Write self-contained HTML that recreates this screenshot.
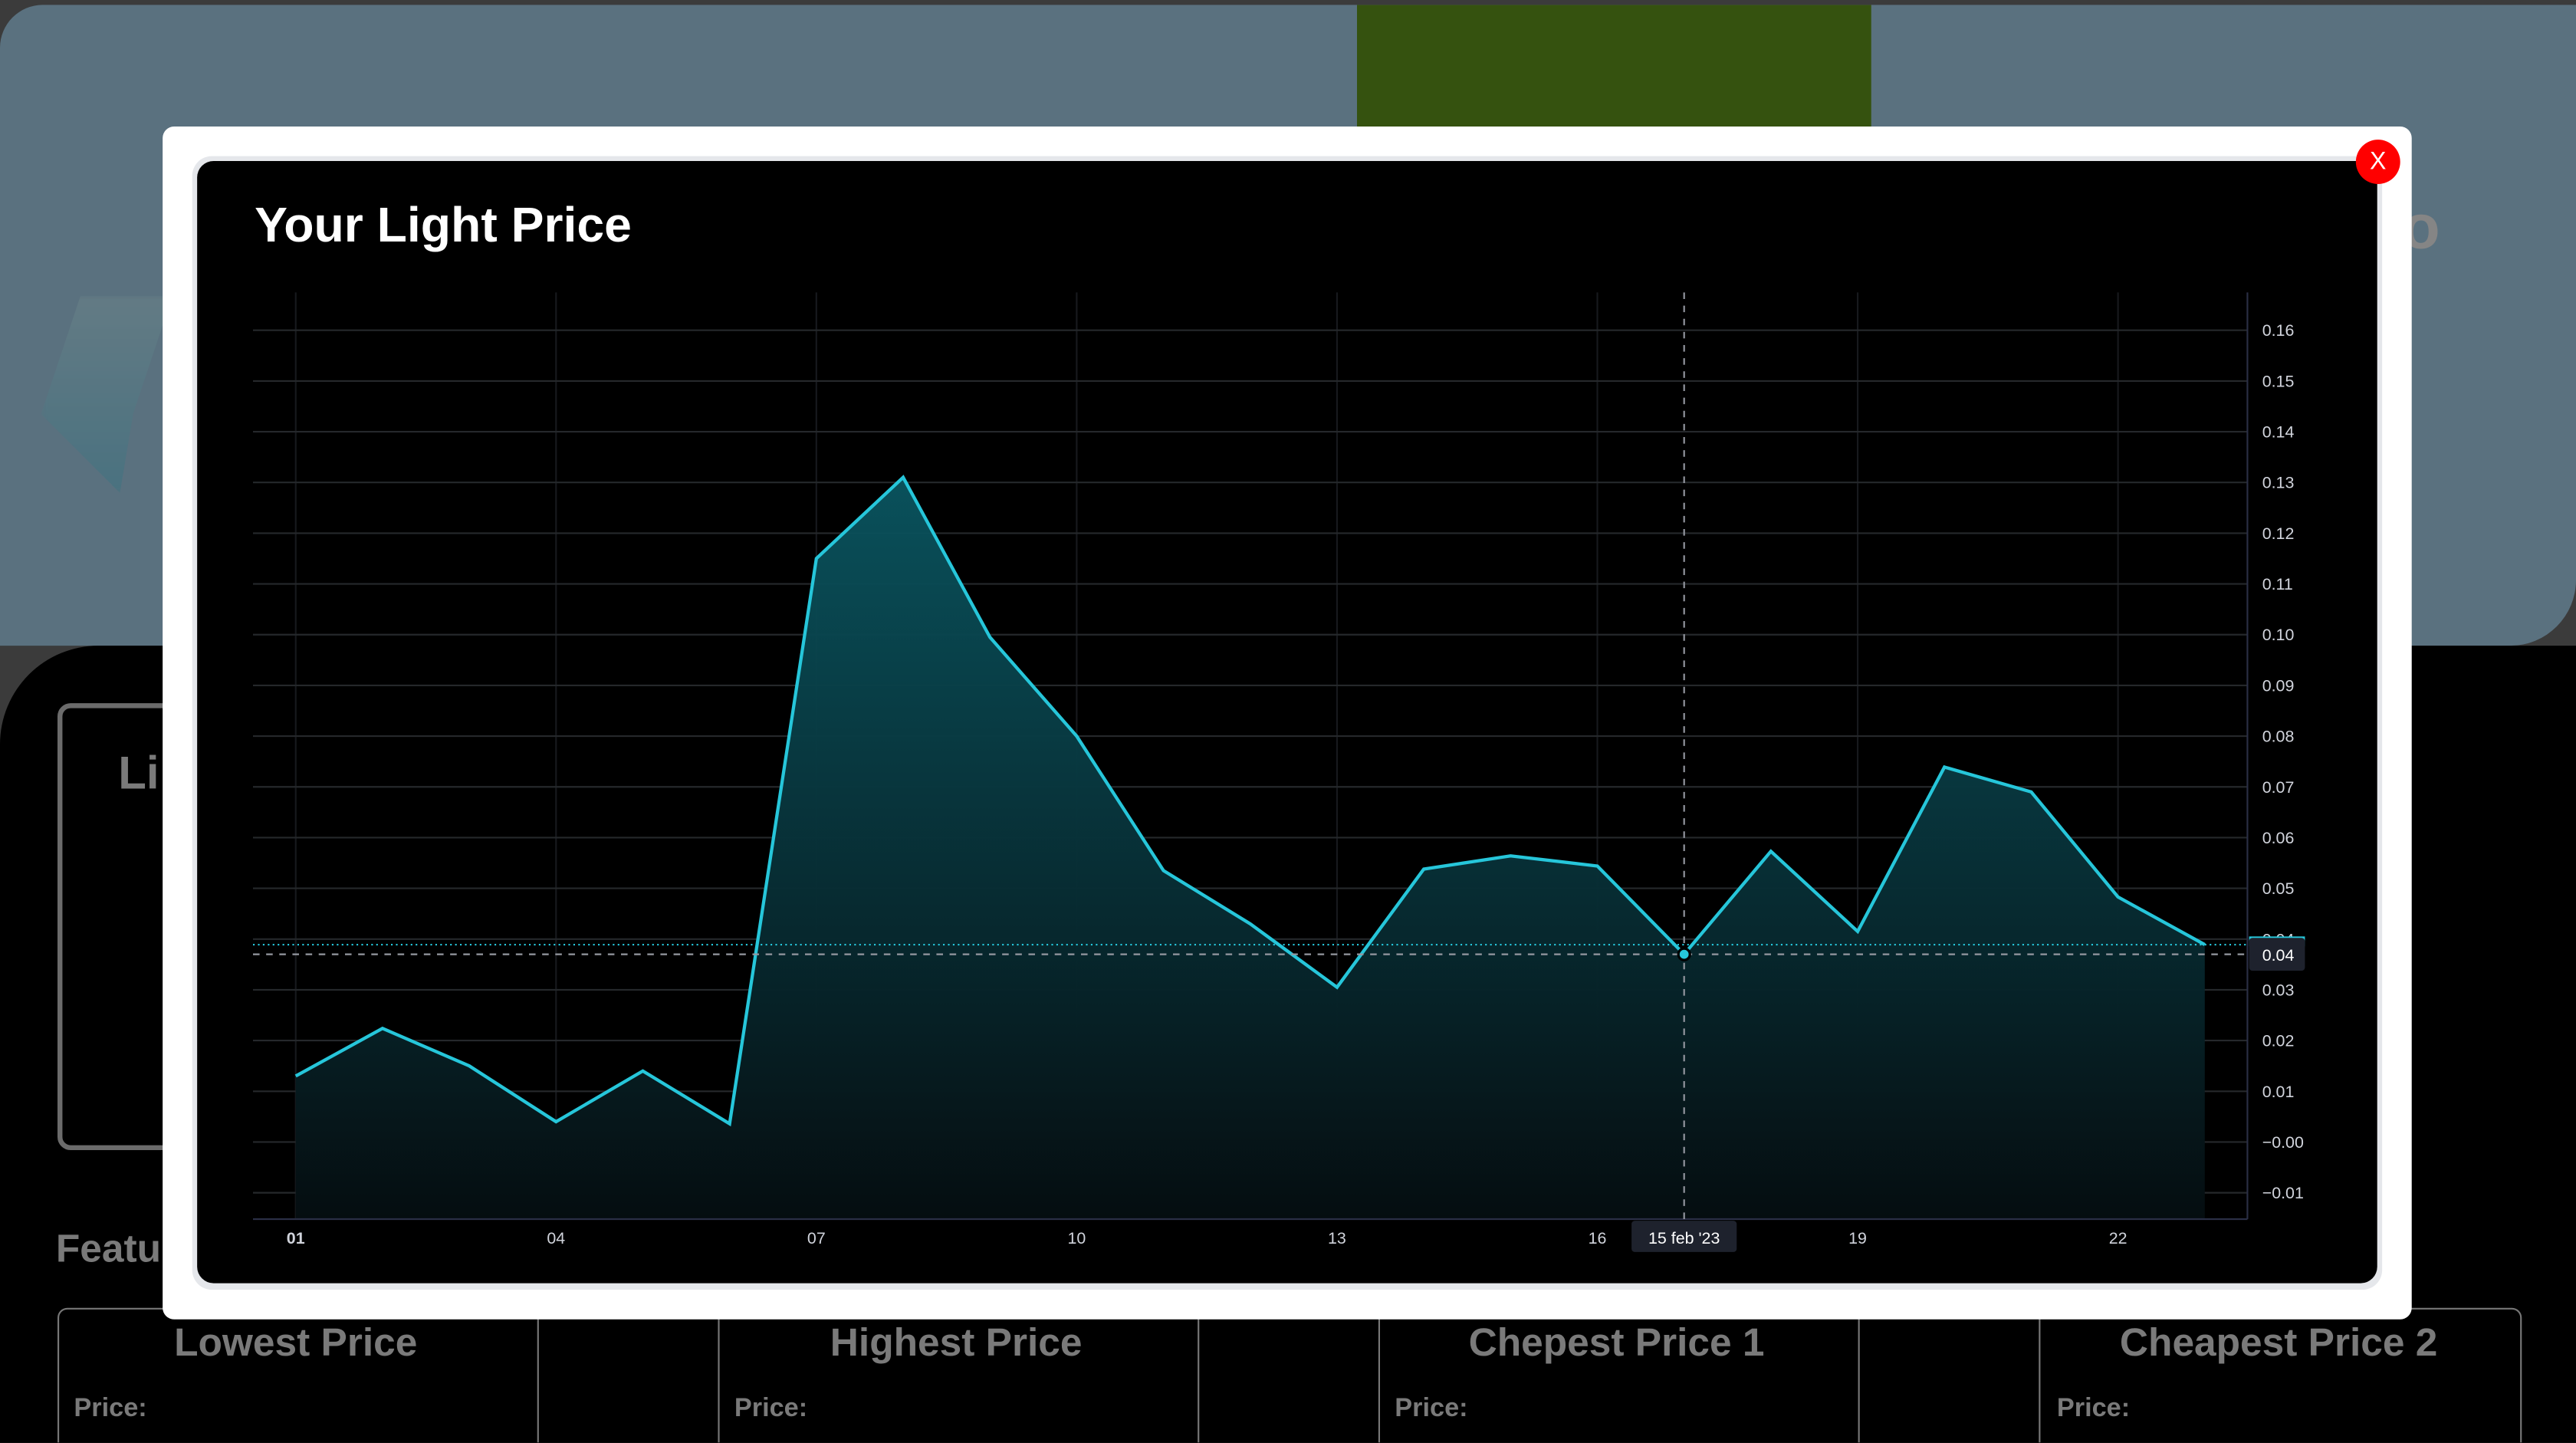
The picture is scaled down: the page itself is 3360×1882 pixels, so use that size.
<!DOCTYPE html>
<html><head><meta charset="utf-8">
<style>
html,body{margin:0;padding:0;width:3360px;height:1882px;overflow:hidden;background:#000;}
#wrap{position:absolute;left:0;top:0;width:1568px;height:878px;transform:scale(2.142857);transform-origin:0 0;font-family:"Liberation Sans",sans-serif;background:#3b3b3b;overflow:hidden;}
.abs{position:absolute;}
</style></head>
<body>
<div id="wrap">
  <div class="abs" style="left:0;top:3px;width:1568px;height:390px;background:#5a717f;border-radius:26px 0 40px 0;"></div>
  <div class="abs" style="left:25px;top:180px;width:80px;height:120px;background:linear-gradient(180deg,#6a8288,#3f7380);opacity:.6;filter:blur(2px);clip-path:polygon(30% 0,100% 0,70% 60%,60% 100%,0 60%);"></div>
  <div class="abs" style="left:826px;top:3px;width:313px;height:74px;background:#35520f;"></div>
  <div class="abs" style="left:1462px;top:118px;font-size:38px;font-weight:bold;color:#858585;">o</div>
  <div class="abs" style="left:0;top:393px;width:1568px;height:485px;background:#000;border-radius:60px 0 0 0;"></div>
  <div class="abs" style="left:35px;top:428px;width:80px;height:266px;border:3px solid #6b6b6b;border-radius:8px;"></div>
  <div class="abs" style="left:72px;top:455px;font-size:28px;font-weight:bold;color:#7a7a7a;">Li</div>
  <div class="abs" style="left:34px;top:747px;font-size:24px;font-weight:bold;color:#7a7a7a;">Featu</div>
  <div class="abs" style="left:35px;top:796px;width:1498px;height:90px;border:1px solid #777;border-radius:6px 6px 0 0;"></div>
  <div id="tbl"></div>

  <div class="abs" style="left:99px;top:77px;width:1369px;height:726px;background:#fff;border-radius:7px;"></div>
  <div class="abs" style="left:117px;top:95px;width:1333px;height:690px;background:#e5e7eb;border-radius:12px;"></div>
  <div class="abs" style="left:120px;top:98px;width:1327px;height:683px;background:#000;border-radius:10px;"></div>
  <div class="abs" style="left:155px;top:121px;font-size:30px;font-weight:bold;color:#fff;">Your Light Price</div>
  <svg class="abs" id="chart" style="left:0;top:0;" width="1568" height="878"></svg>
  <div class="abs" style="left:1434px;top:85px;width:27px;height:27px;border-radius:50%;background:#f00;color:#fff;font-size:15px;text-align:center;line-height:27px;">X</div>
</div>
<script>
(function(){
  const tbl=document.getElementById('tbl');
  const heads=["Lowest Price","Highest Price","Chepest Price 1","Cheapest Price 2"];
  const centers=[180,582,984,1387];
  const lefts=[45,447,849,1252];
  [327,437,729,839,1131,1241].forEach(x=>{
    const d=document.createElement('div');d.className='abs';
    
    
    d.style.cssText=`left:${x}px;top:797px;width:1px;height:81px;background:#777;`;tbl.appendChild(d);
  });
  heads.forEach((h,i)=>{
    const d=document.createElement('div');d.className='abs';
    
    
    d.style.cssText=`left:${centers[i]-150}px;width:300px;text-align:center;top:804px;font-size:24px;font-weight:bold;color:#7a7a7a;`;
    d.textContent=h;tbl.appendChild(d);
    const p=document.createElement('div');p.className='abs';
    
    
    p.style.cssText=`left:${lefts[i]}px;top:849px;font-size:16px;font-weight:bold;color:#7a7a7a;`;
    p.textContent='Price:';tbl.appendChild(p);
  });
})();

const days=[1,2,3,4,5,6,7,8,9,10,11,12,13,14,15,16,17,18,19,20,21,22,23];
const prices=[0.013,0.0224,0.015,0.004,0.014,0.0036,0.115,0.131,0.0995,0.080,0.0535,0.043,0.0305,0.0538,0.0564,0.0544,0.037,0.0573,0.0415,0.0739,0.069,0.0483,0.0389];
const yTicks=[0.16,0.15,0.14,0.13,0.12,0.11,0.10,0.09,0.08,0.07,0.06,0.05,0.04,0.03,0.02,0.01,0.00,-0.01];
const yTickLabels=["0.16","0.15","0.14","0.13","0.12","0.11","0.10","0.09","0.08","0.07","0.06","0.05","0.04","0.03","0.02","0.01","\u22120.00","\u22120.01"];
const xTicks=[1,4,7,10,13,16,19,22];
const xTickLabels=["01","04","07","10","13","16","19","22"];
const hoverIndex=16;
const hoverLabel="15 feb '23";

const NS='http://www.w3.org/2000/svg';
const svg=document.getElementById('chart');
const L=154,R=1368,T=178,B=742;
const xs=d=>180+(d-1)*52.82;
const ys=v=>201+(0.16-v)*3088;
function el(t,a){const e=document.createElementNS(NS,t);for(const k in a)e.setAttribute(k,a[k]);svg.appendChild(e);return e;}

const defs=el('defs',{});
defs.innerHTML='<linearGradient id="fg" x1="0" y1="0" x2="0" y2="1"><stop offset="0" stop-color="#0a5560" stop-opacity="0.95"/><stop offset="1" stop-color="#050d10" stop-opacity="1"/></linearGradient>';

xTicks.forEach(d=>{
  const g=el('line',{x1:xs(d),x2:xs(d),y1:T,y2:B,stroke:'#17191d','stroke-width':1});
  
  
});
yTicks.forEach((v,i)=>{
  const g=el('line',{x1:L,x2:R,y1:ys(v),y2:ys(v),stroke:'#25282b','stroke-width':1});
  
  
  const t=el('text',{x:1377,y:ys(v)+3.5,fill:'#d1d4dc','font-size':10,'font-family':'Liberation Sans, sans-serif'});
  t.textContent=yTickLabels[i];
  
  
});
let pts=days.map((d,i)=>xs(d)+','+ys(prices[i])).join(' ');
const area=el('polygon',{points:xs(days[0])+','+B+' '+pts+' '+xs(days[days.length-1])+','+B,fill:'url(#fg)'});


const line=el('polyline',{points:pts,fill:'none',stroke:'#26c6da','stroke-width':2,'stroke-linejoin':'miter'});


const last=prices[prices.length-1];
const pl=el('line',{x1:L,x2:R,y1:ys(last),y2:ys(last),stroke:'#26c6da','stroke-width':1,'stroke-dasharray':'1,2'});


const lpb=el('rect',{x:1369,y:ys(last)-5,width:34,height:6,fill:'#26c6da'});


const ax=el('line',{x1:L,x2:R,y1:B,y2:B,stroke:'#2a2e45','stroke-width':1});


const ay=el('line',{x1:R,x2:R,y1:T,y2:B,stroke:'#2a2e45','stroke-width':1});


xTicks.forEach((d,i)=>{
  const t=el('text',{x:xs(d),y:757,fill:'#d1d4dc','font-size':10,'text-anchor':'middle','font-family':'Liberation Sans, sans-serif','font-weight':i==0?'bold':'normal'});
  t.textContent=xTickLabels[i];
  
  
});
const hx=xs(days[hoverIndex]),hy=ys(prices[hoverIndex]);
const cv=el('line',{x1:hx,x2:hx,y1:T,y2:B,stroke:'#9598a1','stroke-width':1,'stroke-dasharray':'4,4'});


const ch=el('line',{x1:L,x2:R,y1:hy,y2:hy,stroke:'#9598a1','stroke-width':1,'stroke-dasharray':'4,4'});


const dot=el('circle',{cx:hx,cy:hy,r:3.5,fill:'#26c6da',stroke:'#000','stroke-width':1.5});


const xb=el('rect',{x:hx-32,y:743,width:64,height:19,rx:2,fill:'#1e222d'});


const xt=el('text',{x:hx,y:757,fill:'#fff','font-size':10,'text-anchor':'middle','font-family':'Liberation Sans, sans-serif'});
xt.textContent=hoverLabel;


const yb=el('rect',{x:1369,y:hy-10,width:34,height:20,rx:2,fill:'#1e222d'});


const yt=el('text',{x:1377,y:hy+4,fill:'#fff','font-size':10,'font-family':'Liberation Sans, sans-serif'});
yt.textContent=prices[hoverIndex].toFixed(2);


</script>
</body></html>
